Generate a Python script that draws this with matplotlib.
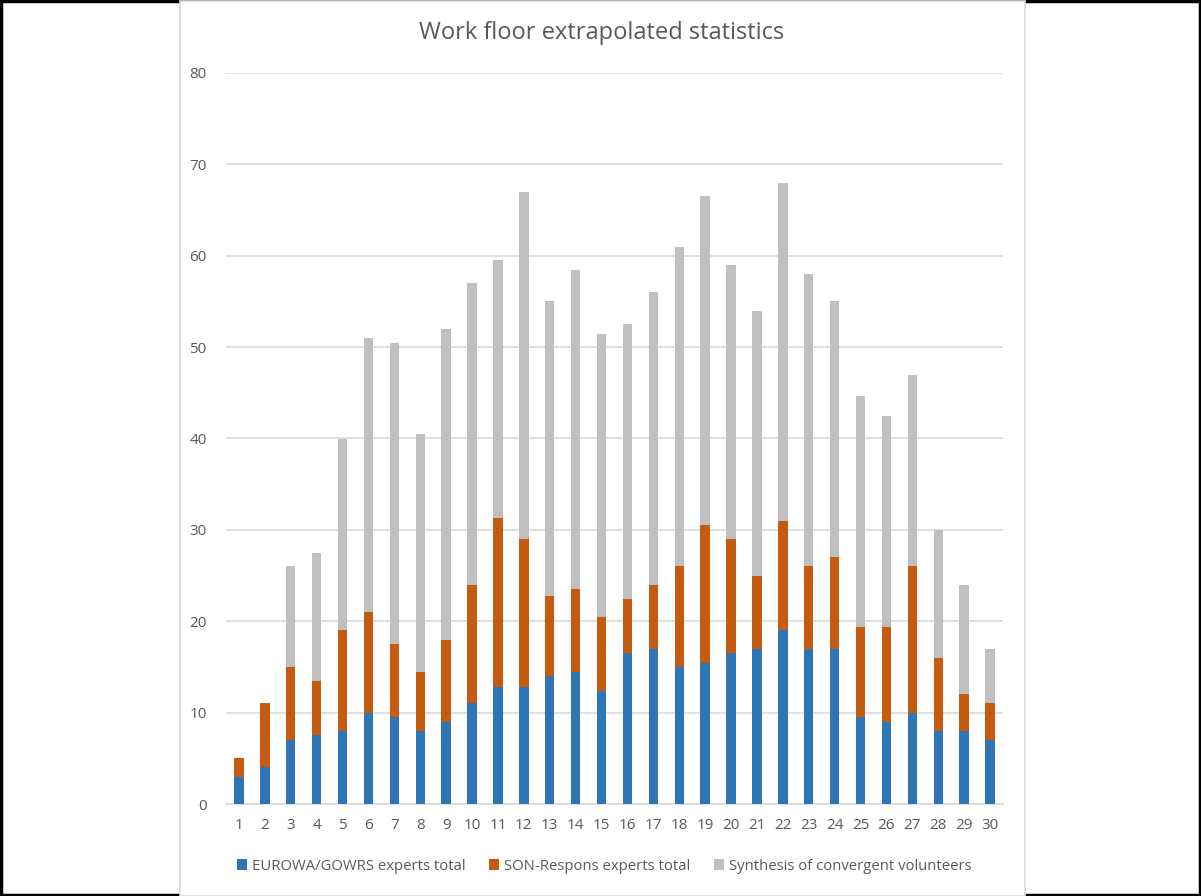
import matplotlib
matplotlib.use("Agg")
import matplotlib.pyplot as plt
from matplotlib.patches import Rectangle, Patch
import numpy as np

categories = [str(i) for i in range(1, 31)]
eurowa = [3, 4, 7, 7.5, 8, 10, 9.5, 8, 9, 11, 12.8, 12.8, 14, 14.5, 12.4,
          16.5, 17, 15, 15.4, 16.5, 17, 19, 17, 17, 9.5, 9, 10, 8, 8, 7]
son_top = [5, 11, 15, 13.5, 19, 21, 17.5, 14.5, 18, 24, 31.3, 29, 22.8, 23.5, 20.5,
           22.4, 24, 26, 30.5, 29, 25, 31, 26, 27, 19.4, 19.4, 26, 16, 12, 11]
total_top = [5, 11, 26, 27.5, 40, 51, 50.5, 40.5, 52, 57, 59.5, 67, 55, 58.4, 51.4,
             52.5, 56, 61, 66.5, 59, 54, 68, 58, 55, 44.6, 42.5, 47, 30, 24, 17]
son = [s - e for s, e in zip(son_top, eurowa)]
synth = [t - s for t, s in zip(total_top, son_top)]

series_names = ["EUROWA/GOWRS experts total", "SON-Respons experts total",
                "Synthesis of convergent volunteers"]
colors = ["#2E75B6", "#C55A11", "#BFBFBF"]
text_color = "#595959"
font = "Open Sans"

W, H = 1201, 896
fig = plt.figure(figsize=(W / 100, H / 100), dpi=100)
fig.patch.set_facecolor("white")

# outer black frame
fig.patches.append(Rectangle((0.001, 0.001), 0.998, 0.998, transform=fig.transFigure,
                             fill=False, edgecolor="black", linewidth=2.5, zorder=0))
# chart panel
fig.patches.append(Rectangle((180 / W, 0.5 / H), (1025 - 180) / W, (H - 1.5) / H,
                             transform=fig.transFigure, facecolor="white",
                             edgecolor="#D9D9D9", linewidth=1.2, zorder=1))

ax = fig.add_axes([226 / W, 1 - 804 / H, (1003 - 226) / W, (804 - 73) / H])
ax.set_zorder(2)
ax.patch.set_alpha(0)

x = np.arange(len(categories))
bw = 0.36
ax.bar(x, eurowa, bw, color=colors[0], edgecolor="none", zorder=3)
ax.bar(x, son, bw, bottom=eurowa, color=colors[1], edgecolor="none", zorder=3)
ax.bar(x, synth, bw, bottom=son_top, color=colors[2], edgecolor="none", zorder=3)

ax.set_xlim(-0.5, len(categories) - 0.5)
ax.set_ylim(0, 80)
ax.set_yticks(np.arange(0, 81, 10))
ax.yaxis.grid(True, color="#D9D9D9", linewidth=1.2, zorder=0)
ax.set_axisbelow(True)
for s in ["top", "right", "left"]:
    ax.spines[s].set_visible(False)
ax.spines["bottom"].set_color("#D9D9D9")
ax.spines["bottom"].set_linewidth(1.2)
ax.set_xticks(x)
ax.set_xticklabels(categories)
ax.tick_params(axis="both", length=0, colors=text_color, labelsize=11)
ax.tick_params(axis="y", pad=14)
ax.tick_params(axis="x", pad=10)
for lab in ax.get_xticklabels() + ax.get_yticklabels():
    lab.set_fontfamily(font)

fig.text(602 / W, 1 - 33 / H, "Work floor extrapolated statistics", ha="center",
         va="center", fontsize=17, color=text_color, fontfamily=font, zorder=3)

handles = [Patch(facecolor=c, edgecolor="none") for c in colors]
leg = fig.legend(handles, series_names, loc="center", bbox_to_anchor=(604 / W, 1 - 866 / H),
                 ncol=3, frameon=False, handlelength=0.7, handleheight=0.7,
                 handletextpad=0.3, columnspacing=1.6,
                 prop={"family": font, "size": 10.7})
for t in leg.get_texts():
    t.set_color(text_color)

fig.savefig("out.png", dpi=100, facecolor="white")
